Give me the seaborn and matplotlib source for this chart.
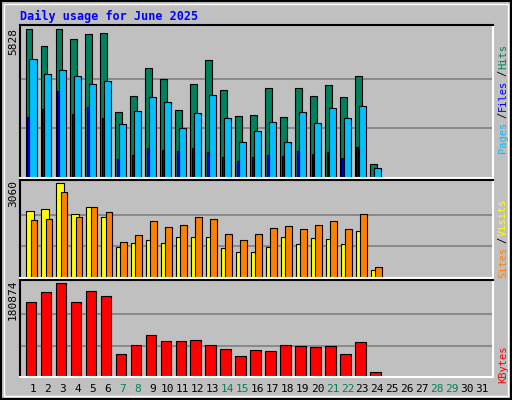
import numpy as np
import matplotlib
matplotlib.use("Agg")
import matplotlib.pyplot as plt
import seaborn as sns

days = list(range(1, 32))
hits = [5828, 5154, 5828, 5432, 5630, 5670, 2577, 3211, 4321, 3885, 2656, 3687, 4638, 3450, 2419, 2458, 3528, 2379, 3528, 3211, 3647, 3172, 3997, 555]
files = [4678, 4083, 4242, 4004, 3687, 3806, 2102, 2617, 3172, 2973, 1943, 2537, 3251, 2339, 1427, 1824, 2181, 1427, 2577, 2141, 2736, 2339, 2815, 396]
pages = [2379, 2696, 3409, 2498, 2775, 2339, 753, 912, 1189, 1110, 1070, 1189, 1030, 832, 674, 832, 912, 872, 1070, 951, 1030, 793, 1229, 40]
visits = [2160, 2227, 3060, 2061, 2294, 1962, 998, 1131, 1231, 1131, 1330, 1330, 1330, 965, 832, 832, 998, 1330, 1098, 1297, 1264, 1098, 1497, 266]
sites = [1862, 1895, 2759, 1962, 2294, 2128, 1164, 1397, 1829, 1629, 1696, 1962, 1895, 1430, 1231, 1430, 1596, 1663, 1563, 1696, 1829, 1563, 2061, 366]
kbytes = [145000, 162900, 180874, 145000, 164900, 155000, 43700, 61600, 81500, 69600, 69600, 71600, 61600, 53700, 39800, 51700, 49700, 61600, 59600, 57600, 59600, 43700, 67600, 9900]
weekend = [7, 8, 14, 15, 21, 22, 28, 29]

BG = "#C0C0C0"
fig = plt.figure(figsize=(5.12, 4.0), dpi=100, facecolor=BG)
fig.patches.append(plt.Rectangle((0.002, 0.002), 0.996, 0.996, transform=fig.transFigure,
                                 fill=False, edgecolor="black", lw=1.5))
fig.patches.append(plt.Rectangle((0.008, 0.01), 0.984, 0.98, transform=fig.transFigure,
                                 fill=False, edgecolor="white", lw=1))

def panel(bottom, height, series, vmax):
    ax = fig.add_axes([0.039, bottom, 0.924, height], facecolor=BG)
    for vals, off, w, col in series:
        x = np.array(days[:len(vals)]) + off
        sns.barplot(x=x, y=vals, native_scale=True, width=w, color=col,
                    saturation=1, edgecolor="black", linewidth=0.8, ax=ax)
    ax.set_xlim(0.13, 31.73)
    ax.set_ylim(0, vmax * 1.03)
    for g in (vmax / 3, vmax * 2 / 3):
        ax.axhline(g, color="#808080", lw=1.2, zorder=0)
    ax.set_xticks([]); ax.set_yticks([])
    ax.set_xlabel(""); ax.set_ylabel("")
    for s in ax.spines.values():
        s.set_color("white"); s.set_linewidth(1.5)
    ax.spines["left"].set_color("black"); ax.spines["top"].set_color("black")
    return ax

panel(0.555, 0.383, [(hits, -0.27, 0.45, "#00805C"), (files, 0.0, 0.47, "#00C0FF"),
                     (pages, -0.33, 0.13, "#0000FF")], max(hits))
panel(0.305, 0.245, [(visits, -0.2, 0.5, "#FFFF00"), (sites, 0.07, 0.45, "#FF8000")], max(visits))
panel(0.0575, 0.2425, [(kbytes, -0.13, 0.7, "#FF0000")], max(kbytes))

for d in days:
    x = 0.039 + 0.924 * (d - 0.13) / 31.6
    fig.text(x, 0.015, str(d), ha="center", va="bottom", family="DejaVu Sans Mono", fontsize=8,
             color="#00805C" if d in weekend else "black")

fig.text(0.039, 0.96, "Daily usage for June 2025", color="#0000FF", family="DejaVu Sans Mono",
         fontweight="bold", fontsize=8.5, va="center")
for y, lab in ((0.93, "5828"), (0.55, "3060"), (0.3, "180874")):
    fig.text(0.025, y, lab, rotation=90, ha="center", va="top", family="DejaVu Sans Mono", fontsize=8)

def right_label(yc, parts):
    total = sum(len(t) for t, _ in parts)
    ch = 0.0175
    y = yc - total * ch / 2
    for t, c in parts:
        fig.text(0.982, y, t, rotation=90, ha="center", va="bottom", color=c,
                 family="DejaVu Sans Mono", fontsize=7.5)
        y += len(t) * ch

right_label(0.757, [("Pages", "#00C0FF"), ("/", "black"), ("Files", "#0000FF"), ("/", "black"), ("Hits", "#00805C")])
right_label(0.41, [("Sites", "#FF8000"), ("/", "black"), ("Visits", "#FFFF00")])
right_label(0.095, [("KBytes", "#FF0000")])

fig.savefig("out.png", dpi=100, facecolor=BG)
